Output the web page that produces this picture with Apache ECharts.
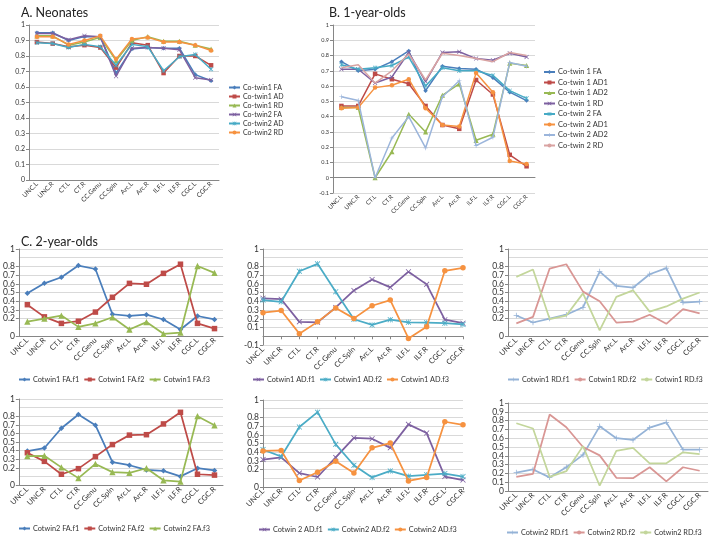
<!DOCTYPE html>
<html>
<head>
<meta charset="utf-8">
<script src="https://cdn.jsdelivr.net/npm/echarts@6/dist/echarts.min.js"></script>
<style>
  html, body { margin: 0; padding: 0; background: #fff; }
  #chart { width: 711px; height: 538px; }
</style>
</head>
<body>
<div id="chart"></div>
<script>
const categories = ['UNC.L', 'UNC.R', 'CT.L', 'CT.R', 'CC.Genu', 'CC.Spln', 'Arc.L', 'Arc.R', 'ILF.L', 'ILF.R', 'CGC.L', 'CGC.R']

// A. Neonates
const neoNames = ['Co-twin1 FA', 'Co-twin1 AD', 'Co-twin1 RD', 'Co-twin2 FA', 'Co-twin2 AD', 'Co-twin2 RD']
const neoFA1 = [0.95, 0.95, 0.90, 0.925, 0.925, 0.69, 0.845, 0.855, 0.85, 0.85, 0.68, 0.64]
const neoAD1 = [0.89, 0.88, 0.86, 0.87, 0.855, 0.725, 0.885, 0.87, 0.69, 0.80, 0.80, 0.74]
const neoRD1 = [0.93, 0.93, 0.87, 0.89, 0.92, 0.77, 0.90, 0.925, 0.895, 0.895, 0.87, 0.845]
const neoFA2 = [0.945, 0.945, 0.905, 0.93, 0.925, 0.67, 0.85, 0.855, 0.85, 0.84, 0.66, 0.645]
const neoAD2 = [0.885, 0.88, 0.855, 0.875, 0.86, 0.74, 0.875, 0.86, 0.705, 0.795, 0.81, 0.715]
const neoRD2 = [0.925, 0.925, 0.875, 0.90, 0.93, 0.78, 0.91, 0.92, 0.89, 0.89, 0.87, 0.835]

// B. 1-year-olds
const oneNames = ['Co-twin 1 FA', 'Co-twin 1 AD1', 'Co-twin 1 AD2', 'Co-twin 1 RD', 'Co-twin 2 FA', 'Co-twin 2 AD1', 'Co-twin 2 AD2', 'Co-twin 2 RD']
const oneFA1 = [0.76, 0.70, 0.71, 0.76, 0.83, 0.57, 0.73, 0.715, 0.71, 0.655, 0.56, 0.505]
const oneAD1a = [0.47, 0.47, 0.68, 0.645, 0.615, 0.47, 0.345, 0.32, 0.64, 0.545, 0.15, 0.075]
const oneAD1b = [0.46, 0.46, 0.0, 0.17, 0.415, 0.30, 0.54, 0.615, 0.245, 0.285, 0.75, 0.735]
const oneRD1 = [0.71, 0.71, 0.62, 0.66, 0.82, 0.63, 0.82, 0.825, 0.78, 0.77, 0.815, 0.79]
const oneFA2 = [0.74, 0.71, 0.72, 0.735, 0.79, 0.60, 0.72, 0.70, 0.70, 0.67, 0.57, 0.52]
const oneAD2a = [0.455, 0.46, 0.59, 0.605, 0.645, 0.455, 0.345, 0.335, 0.685, 0.56, 0.11, 0.09]
const oneAD2b = [0.53, 0.505, 0.0, 0.26, 0.40, 0.195, 0.53, 0.635, 0.21, 0.265, 0.755, 0.73]
const oneRD2 = [0.72, 0.74, 0.62, 0.70, 0.81, 0.64, 0.815, 0.80, 0.78, 0.76, 0.82, 0.80]

// C. 2-year-olds, co-twin 1
const c1FA = [
  [0.49, 0.605, 0.675, 0.81, 0.77, 0.25, 0.23, 0.245, 0.19, 0.075, 0.23, 0.19],
  [0.36, 0.22, 0.145, 0.17, 0.275, 0.445, 0.605, 0.595, 0.72, 0.825, 0.145, 0.085],
  [0.165, 0.20, 0.235, 0.105, 0.145, 0.215, 0.075, 0.16, 0.025, 0.04, 0.805, 0.725]
]
const c1AD = [
  [0.435, 0.425, 0.165, 0.16, 0.33, 0.525, 0.65, 0.56, 0.74, 0.595, 0.19, 0.15],
  [0.415, 0.395, 0.745, 0.83, 0.51, 0.195, 0.13, 0.19, 0.16, 0.155, 0.15, 0.135],
  [0.27, 0.295, 0.03, 0.165, 0.325, 0.205, 0.35, 0.415, -0.025, 0.11, 0.75, 0.785]
]
const c1RD = [
  [0.235, 0.155, 0.20, 0.245, 0.33, 0.74, 0.575, 0.555, 0.71, 0.78, 0.385, 0.395],
  [0.145, 0.22, 0.775, 0.825, 0.51, 0.40, 0.155, 0.165, 0.245, 0.14, 0.31, 0.26],
  [0.68, 0.765, 0.195, 0.235, 0.49, 0.065, 0.45, 0.525, 0.28, 0.34, 0.43, 0.50]
]
// C. 2-year-olds, co-twin 2
const c2FA = [
  [0.395, 0.43, 0.66, 0.82, 0.695, 0.265, 0.23, 0.175, 0.165, 0.10, 0.195, 0.17],
  [0.375, 0.275, 0.125, 0.19, 0.33, 0.47, 0.58, 0.585, 0.71, 0.845, 0.125, 0.115],
  [0.335, 0.34, 0.205, 0.08, 0.245, 0.15, 0.14, 0.195, 0.055, 0.04, 0.80, 0.695]
]
const c2AD = [
  [0.315, 0.34, 0.16, 0.115, 0.34, 0.565, 0.555, 0.45, 0.72, 0.62, 0.12, 0.08],
  [0.43, 0.35, 0.69, 0.86, 0.49, 0.25, 0.11, 0.185, 0.125, 0.14, 0.155, 0.12],
  [0.415, 0.42, 0.075, 0.17, 0.295, 0.16, 0.45, 0.505, 0.07, 0.11, 0.75, 0.715]
]
const c2RD = [
  [0.21, 0.245, 0.155, 0.27, 0.41, 0.735, 0.60, 0.58, 0.72, 0.78, 0.47, 0.47],
  [0.16, 0.195, 0.87, 0.725, 0.50, 0.405, 0.15, 0.145, 0.27, 0.11, 0.27, 0.23],
  [0.77, 0.71, 0.16, 0.225, 0.51, 0.06, 0.455, 0.49, 0.315, 0.315, 0.44, 0.42]
]
const c1FANames = ['Cotwin1 FA.f1', 'Cotwin1 FA.f2', 'Cotwin1 FA.f3']
const c1ADNames = ['Cotwin1 AD.f1', 'Cotwin1 AD.f2', 'Cotwin1 AD.f3']
const c1RDNames = ['Cotwin1 RD.f1', 'Cotwin1 RD.f2', 'Cotwin1 RD.f3']
const c2FANames = ['Cotwin2 FA.f1', 'Cotwin2 FA.f2', 'Cotwin2 FA.f3']
const c2ADNames = ['Cotwin 2 AD.f1', 'Cotwin2 AD.f2', 'Cotwin2 AD.f3']
const c2RDNames = ['Cotwin2 RD.f1', 'Cotwin2 RD.f2', 'Cotwin2 RD.f3']

const FONT = 'Lato, "Liberation Sans", sans-serif'
const X_SYM = 'path://M1,0L5,4L9,0L10,1L6,5L10,9L9,10L5,6L1,10L0,9L4,5L0,1Z'
const STAR_SYM = 'path://M1,0L4.4,3.4L4.4,0L5.6,0L5.6,3.4L9,0L10,1L6,5L10,9L9,10L5.6,6.6L5.6,10L4.4,10L4.4,6.6L1,10L0,9L4,5L0,1Z'
const PLUS_SYM = 'path://M4.3,0L5.7,0L5.7,4.3L10,4.3L10,5.7L5.7,5.7L5.7,10L4.3,10L4.3,5.7L0,5.7L0,4.3L4.3,4.3Z'

const C_BLUE = '#4A7EBB', C_RED = '#BE4B48', C_GREEN = '#98B954'
const C_PURPLE = '#7D60A0', C_CYAN = '#46AAC5', C_ORANGE = '#F69240'

const grids = []
const xAxes = []
const yAxes = []
const series = []
const legends = []

function addPanel(p) {
  const i = grids.length
  grids.push({ left: p.left, top: p.top, width: p.width, height: p.height, containLabel: false })
  xAxes.push({
    type: 'category', gridIndex: i, data: categories, boundaryGap: p.gap,
    axisLine: { lineStyle: { color: '#868686', width: 1 } },
    axisTick: { length: 3, lineStyle: { color: '#868686' } },
    axisLabel: { interval: 0, rotate: 45, fontSize: p.xFont, color: '#333', fontFamily: FONT, margin: 3, hideOverlap: false }
  })
  yAxes.push({
    type: 'value', gridIndex: i, min: p.min, max: 1, interval: 0.1,
    axisLine: { show: true, lineStyle: { color: '#868686', width: 1 } },
    axisTick: { show: true, length: 3, lineStyle: { color: '#868686' } },
    splitLine: { lineStyle: { color: '#D9D9D9', width: 1 } },
    axisLabel: {
      fontSize: p.yFont, color: '#333', fontFamily: FONT, margin: 4,
      showMinLabel: true, showMaxLabel: true, hideOverlap: false,
      formatter: v => String(Math.round(v * 10) / 10)
    }
  })
  p.lines.forEach((ln, k) => {
    series.push({
      type: 'line', name: p.names[k], xAxisIndex: i, yAxisIndex: i,
      data: ln, color: p.colors[k],
      symbol: p.symbols[k], symbolSize: p.symSize * (p.symbols[k] === 'triangle' ? 1.15 : 1),
      showSymbol: p.symbols[k] !== 'none',
      lineStyle: { width: p.lw, color: p.colors[k] },
      itemStyle: { color: p.colors[k] },
      animation: false, z: 2 + k
    })
  })
  legends.push(Object.assign({
    data: p.names, padding: 0, itemWidth: 11, itemHeight: 5,
    textStyle: { fontSize: p.legFont, color: '#333', fontFamily: FONT, padding: [0, 0, 0, -2] }
  }, p.legend))
}

addPanel({
  left: 29, top: 25, width: 190, height: 155, gap: true, min: 0,
  xFont: 6.5, yFont: 7, lw: 1.5, symSize: 4.5, legFont: 7,
  names: neoNames, lines: [neoFA1, neoAD1, neoRD1, neoFA2, neoAD2, neoRD2],
  colors: [C_BLUE, C_RED, C_GREEN, C_PURPLE, C_CYAN, C_ORANGE],
  symbols: ['diamond', 'rect', 'triangle', X_SYM, STAR_SYM, 'circle'],
  legend: { orient: 'vertical', left: 228, top: 84, itemGap: 2 }
})

addPanel({
  left: 333, top: 25, width: 202, height: 168, gap: true, min: -0.1,
  xFont: 6, yFont: 5.5, lw: 1.5, symSize: 4.5, legFont: 7.5,
  names: oneNames, lines: [oneFA1, oneAD1a, oneAD1b, oneRD1, oneFA2, oneAD2a, oneAD2b, oneRD2],
  colors: [C_BLUE, C_RED, C_GREEN, C_PURPLE, C_CYAN, C_ORANGE, '#9BB5DB', '#D9A3A2'],
  symbols: ['diamond', 'rect', 'triangle', X_SYM, STAR_SYM, 'circle', PLUS_SYM, 'none'],
  legend: { orient: 'vertical', left: 543, top: 68, itemGap: 2.5 }
})

const cPanels = [
  { left: 16, top: 249, width: 207, height: 87, gap: true, min: 0, names: c1FANames, lines: c1FA,
    colors: [C_BLUE, C_RED, C_GREEN], symbols: ['diamond', 'rect', 'triangle'], legend: { left: 18, top: 376 } },
  { left: 263, top: 249, width: 200, height: 96, gap: false, min: -0.1, names: c1ADNames, lines: c1AD,
    colors: [C_PURPLE, '#4BACC6', C_ORANGE], symbols: [X_SYM, STAR_SYM, 'circle'], legend: { left: 252, top: 376 } },
  { left: 508, top: 249, width: 200, height: 87, gap: true, min: 0, names: c1RDNames, lines: c1RD,
    colors: ['#95B3D7', '#D99694', '#C3D69B'], symbols: [PLUS_SYM, 'none', 'none'], legend: { left: 507, top: 376 } },
  { left: 16, top: 399, width: 207, height: 86, gap: true, min: 0, names: c2FANames, lines: c2FA,
    colors: [C_BLUE, C_RED, C_GREEN], symbols: ['diamond', 'rect', 'triangle'], legend: { left: 18, top: 525 } },
  { left: 263, top: 400, width: 200, height: 87, gap: false, min: 0, names: c2ADNames, lines: c2AD,
    colors: [C_PURPLE, '#4BACC6', C_ORANGE], symbols: [X_SYM, STAR_SYM, 'circle'], legend: { left: 258, top: 526 } },
  { left: 508, top: 403, width: 200, height: 88, gap: true, min: 0, names: c2RDNames, lines: c2RD,
    colors: ['#95B3D7', '#D99694', '#C3D69B'], symbols: [PLUS_SYM, 'none', 'none'], legend: { left: 506, top: 529 } }
]
cPanels.forEach(p => {
  p.legend.itemGap = 4
  p.legend.width = 230
  addPanel(Object.assign({ xFont: 7.5, yFont: 8.5, lw: 1.75, symSize: 5.5, legFont: 7.3 }, p))
})

const chart = echarts.init(document.getElementById('chart'), null, { renderer: 'canvas' })
chart.setOption({
  backgroundColor: '#fff',
  animation: false,
  textStyle: { fontFamily: FONT },
  title: [
    { text: 'A. Neonates', left: 16, top: 1, textStyle: { fontSize: 12.5, fontWeight: 'normal', color: '#222', fontFamily: FONT } },
    { text: 'B. 1-year-olds', left: 324, top: 1, textStyle: { fontSize: 12.5, fontWeight: 'normal', color: '#222', fontFamily: FONT } },
    { text: 'C. 2-year-olds', left: 16, top: 230, textStyle: { fontSize: 12.5, fontWeight: 'normal', color: '#222', fontFamily: FONT } }
  ],
  grid: grids,
  xAxis: xAxes,
  yAxis: yAxes,
  legend: legends,
  series: series
})
</script>
</body>
</html>
